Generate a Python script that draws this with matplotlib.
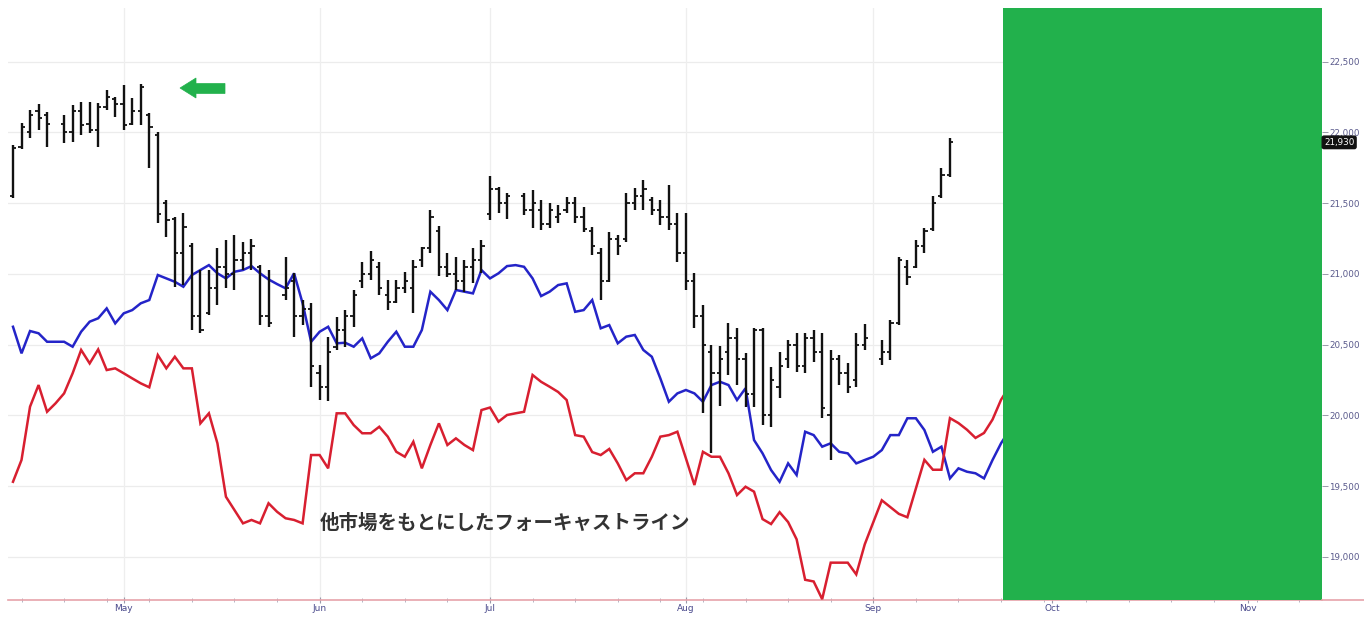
import numpy as np
import pandas as pd
import matplotlib
matplotlib.use("Agg")
import matplotlib.pyplot as plt
from matplotlib.patches import Polygon
from matplotlib.lines import Line2D
import matplotlib.transforms as mtransforms
from matplotlib.ticker import FuncFormatter, FixedLocator

nan = np.nan

# ---------------- data ----------------
start_date = "2019-04-12"
end_date = "2019-11-29"

bar_high = [21911, 22066, 22158, 22201, 22144, nan, 22123, 22194, 22215, 22215,
            22208, 22300, 22250, 22335, 22243, 22342, 22137, 22003, 21522, 21402,
            21430, 21218, 21027, 21027, 21183, 21240, 21275, 21225, 21247, 21063,
            21027, nan, 21120, 21006, 20815, 20794, 20356, 20554, 20695, 20744,
            20886, 21084, 21162, 21084, 20956, 20956, 21013, 21098, 21190, 21452,
            21339, 21148, 21120, 21098, 21183, 21240, 21689, 21616, 21571, nan,
            21571, 21593, 21522, 21501, 21487, 21544, 21544, 21473, 21332, 21183,
            21296, 21275, 21571, 21607, 21664, 21544, 21522, 21628, 21430, 21430,
            21006, 20780, 20497, 20487, 20652, 20617, 20440, 20617, 20617, 20341,
            20447, 20532, 20582, 20582, 20603, 20582, 20462, 20426, 20370, 20582,
            20645, nan, 20532, 20674, 21121, 21098, 21240, 21325, 21549, 21748,
            21960]
bar_low = [21536, 21883, 21960, 22017, 21897, nan, 21925, 21932, 21982, 21996,
           21897, 22158, 22109, 22017, 22052, 22052, 21748, 21360, 21261, 20907,
           20921, 20603, 20582, 20709, 20780, 20900, 20885, 21027, 21027, 20639,
           20625, nan, 20815, 20554, 20639, 20200, 20108, 20101, 20462, 20483,
           20625, 20900, 20956, 20850, 20744, 20794, 20865, 20723, 21049, 21148,
           20985, 20978, 20886, 20872, 20936, 21006, 21381, 21428, 21387, nan,
           21416, 21325, 21310, 21325, 21360, 21430, 21360, 21296, 21134, 20815,
           20942, 21134, 21225, 21452, 21452, 21416, 21346, 21310, 21084, 20886,
           20617, 20016, 19733, 20063, 20285, 20214, 20059, 20059, 19932, 19918,
           20123, 20334, 20306, 20299, 20377, 19981, 19684, 20214, 20158, 20200,
           20462, nan, 20356, 20391, 20638, 20921, 21042, 21148, 21303, 21536,
           21685]
bar_open = [21550, 21900, 22000, 22150, 22120, nan, 22060, 22000, 22150, 22060,
            22020, 22180, 22240, 22200, 22060, 22150, 22120, 21980, 21500, 21390,
            21150, 21200, 20700, 20720, 20900, 21050, 21000, 21100, 21150, 21050,
            20700, nan, 20850, 20950, 20700, 20750, 20300, 20200, 20480, 20600,
            20700, 20950, 21000, 21050, 20850, 20800, 20900, 20900, 21100, 21180,
            21300, 21050, 21000, 20950, 21050, 21100, 21420, 21600, 21500, nan,
            21550, 21450, 21450, 21350, 21400, 21450, 21500, 21400, 21300, 21150,
            20950, 21250, 21250, 21500, 21550, 21520, 21450, 21400, 21350, 21150,
            20950, 20700, 20450, 20300, 20450, 20550, 20400, 20150, 20600, 20000,
            20200, 20400, 20500, 20350, 20550, 20450, 20000, 20400, 20300, 20250,
            20500, nan, 20400, 20450, 20650, 21050, 21050, 21200, 21320, 21550,
            21700]
bar_close = [21890, 22040, 22120, 22100, 22060, nan, 22000, 22150, 22050, 22020,
             22180, 22250, 22200, 22050, 22150, 22320, 22040, 21420, 21380, 21150,
             21330, 20700, 20600, 20900, 21050, 21000, 21100, 21150, 21200, 20700,
             20650, nan, 20900, 20700, 20750, 20350, 20200, 20450, 20600, 20700,
             20850, 21000, 21100, 20900, 20800, 20900, 20950, 21050, 21180, 21400,
             21050, 21000, 20950, 21050, 21100, 21200, 21600, 21500, 21550, nan,
             21450, 21500, 21350, 21450, 21420, 21500, 21400, 21320, 21200, 20950,
             21250, 21200, 21500, 21550, 21600, 21450, 21400, 21350, 21150, 20950,
             20700, 20500, 20300, 20400, 20550, 20400, 20150, 20600, 20000, 20250,
             20350, 20500, 20350, 20550, 20450, 20050, 20400, 20300, 20200, 20500,
             20550, nan, 20450, 20650, 21100, 20980, 21200, 21300, 21500, 21700,
             21930]

blue_line = [20626, 20438, 20596, 20580, 20520, 20520, 20520, 20485, 20591, 20662,
             20686, 20756, 20650, 20721, 20744, 20792, 20815, 20992, 20968, 20944,
             20909, 20992, 21027, 21062, 21004, 20968, 21015, 21027, 21055, 21004,
             20961, 20928, 20898, 21004, 20792, 20520, 20591, 20626, 20509, 20513,
             20485, 20544, 20403, 20438, 20520, 20591, 20485, 20485, 20603, 20874,
             20815, 20744, 20886, 20874, 20862, 21027, 20968, 21004, 21055, 21062,
             21050, 20968, 20843, 20874, 20921, 20933, 20732, 20744, 20815, 20615,
             20638, 20509, 20556, 20568, 20462, 20414, 20261, 20096, 20155, 20179,
             20155, 20096, 20214, 20237, 20214, 20108, 20191, 19825, 19731, 19613,
             19530, 19660, 19578, 19884, 19860, 19778, 19802, 19742, 19731, 19660,
             19684, 19707, 19754, 19860, 19860, 19979, 19979, 19896, 19742, 19778,
             19554, 19625, 19601, 19590, 19554, 19684, 19802, 19896]
red_line = [19530, 19684, 20061, 20214, 20025, 20085, 20155, 20297, 20462, 20367,
            20466, 20320, 20332, 20297, 20261, 20226, 20198, 20426, 20332, 20414,
            20332, 20332, 19943, 20014, 19802, 19424, 19330, 19236, 19260, 19236,
            19378, 19318, 19272, 19260, 19236, 19719, 19719, 19625, 20014, 20014,
            19931, 19873, 19873, 19919, 19849, 19742, 19707, 19813, 19625, 19790,
            19943, 19790, 19837, 19790, 19754, 20037, 20055, 19955, 20002, 20014,
            20025, 20285, 20237, 20202, 20165, 20108, 19860, 19849, 19740, 19719,
            19762, 19660, 19542, 19590, 19590, 19707, 19849, 19860, 19884, 19696,
            19507, 19742, 19707, 19707, 19590, 19436, 19495, 19460, 19266, 19231,
            19315, 19245, 19123, 18837, 18825, 18700, 18958, 18958, 18958, 18875,
            19088, 19244, 19399, 19351, 19303, 19279, 19482, 19685, 19615, 19615,
            19980, 19945, 19898, 19840, 19875, 19970, 20110, 20205]

y_ticks = [19000, 19500, 20000, 20500, 21000, 21500, 22000, 22500]
last_price = 21930
annotation_text = "他市場をもとにしたフォーキャストライン"
forecast_start = 116.2   # index where the green forecast block begins

# ---------------- figure ----------------
W, H = 1364, 618
fig = plt.figure(figsize=(W / 100, H / 100), dpi=100)
fig.patch.set_facecolor("white")
ax = fig.add_axes([8 / W, 18 / H, 1314 / W, 592 / H])
ax.set_facecolor("white")

dates = pd.bdate_range(start_date, end_date)
idx = np.arange(len(dates))

# month ticks (first business day of each month) and weekly (Monday) minor ticks
month_pos = [i for i in range(1, len(dates)) if dates[i].month != dates[i - 1].month]
month_lab = [dates[i].strftime("%b") for i in month_pos]
week_pos = [i for i in range(len(dates)) if dates[i].weekday() == 0]

ax.set_xlim(-0.587, 153.68)
ax.set_ylim(18694, 22880)

# grid
for yt in y_ticks:
    ax.axhline(yt, color="#ececec", lw=0.9, zorder=0)
for mp in month_pos:
    ax.axvline(mp, color="#eeeeee", lw=0.9, zorder=0)

# lines
n_line = len(blue_line)
ax.plot(idx[:n_line], blue_line, color="#2424c8", lw=1.8, zorder=3, solid_joinstyle="miter")
ax.plot(idx[:len(red_line)], red_line, color="#d81f30", lw=1.8, zorder=3, solid_joinstyle="miter")

# OHLC bars
nb = len(bar_high)
xb = idx[:nb].astype(float)
hi = np.array(bar_high, float)
lo = np.array(bar_low, float)
op = np.array(bar_open, float)
cl = np.array(bar_close, float)
ok = ~np.isnan(hi)
ax.vlines(xb[ok], lo[ok], hi[ok], color="#111111", lw=1.7, zorder=4)
ax.hlines(op[ok], xb[ok] - 0.38, xb[ok], color="#111111", lw=1.3, zorder=4)
ax.hlines(cl[ok], xb[ok], xb[ok] + 0.38, color="#111111", lw=1.3, zorder=4)

# green forecast block
ax.axvspan(forecast_start, ax.get_xlim()[1], color="#22b14c", zorder=6, lw=0)

# axes styling
for s in ["top", "left", "right"]:
    ax.spines[s].set_visible(False)
ax.spines["bottom"].set_color("#e6a3aa")
ax.spines["bottom"].set_linewidth(1.2)
fig.add_artist(Line2D([1322 / W, 1.0], [18 / H, 18 / H], color="#e6a3aa", lw=1.2,
                      transform=fig.transFigure))

ax.xaxis.set_major_locator(FixedLocator(month_pos))
ax.set_xticklabels(month_lab)
ax.xaxis.set_minor_locator(FixedLocator(week_pos))
ax.tick_params(axis="x", which="major", length=4, width=0.8, color="#9a9aaa",
               labelsize=6.5, labelcolor="#4a4a8c", pad=1, direction="inout")
ax.tick_params(axis="x", which="minor", length=3, width=0.6, color="#a8a8b8",
               direction="inout")

ax.yaxis.tick_right()
ax.set_yticks(y_ticks)
ax.yaxis.set_major_formatter(FuncFormatter(lambda v, p: f"{int(v):,}"))
ax.tick_params(axis="y", which="major", length=4, width=0.7, color="#9a9aaa",
               labelsize=6.3, labelcolor="#5a5a8c", pad=1)

# last price tag
trans = mtransforms.blended_transform_factory(ax.transAxes, ax.transData)
ax.text(1.0015, last_price, f"{last_price:,}", transform=trans, ha="left", va="center",
        fontsize=6.3, color="white", zorder=10, clip_on=False,
        bbox=dict(boxstyle="round,pad=0.2,rounding_size=0.2", fc="#111111", ec="#111111"))

# green arrow (pointing left)
arrow_px = [(180, 88), (196, 78), (196, 83.5), (225, 83.5), (225, 93.5), (196, 93.5), (196, 98)]
arrow_pts = [(x / W, 1 - y / H) for x, y in arrow_px]
fig.add_artist(Polygon(arrow_pts, closed=True, fc="#22b14c", ec="#22b14c", lw=0.5,
                       transform=fig.transFigure, zorder=8))

# annotation text
fig.text(320 / W, 1 - 523 / H, annotation_text, ha="left", va="center",
         fontsize=14, fontweight="bold", color="#333333",
         family=["Noto Sans CJK JP", "DejaVu Sans"], zorder=9)

fig.savefig("out.png", dpi=100, facecolor="white")
